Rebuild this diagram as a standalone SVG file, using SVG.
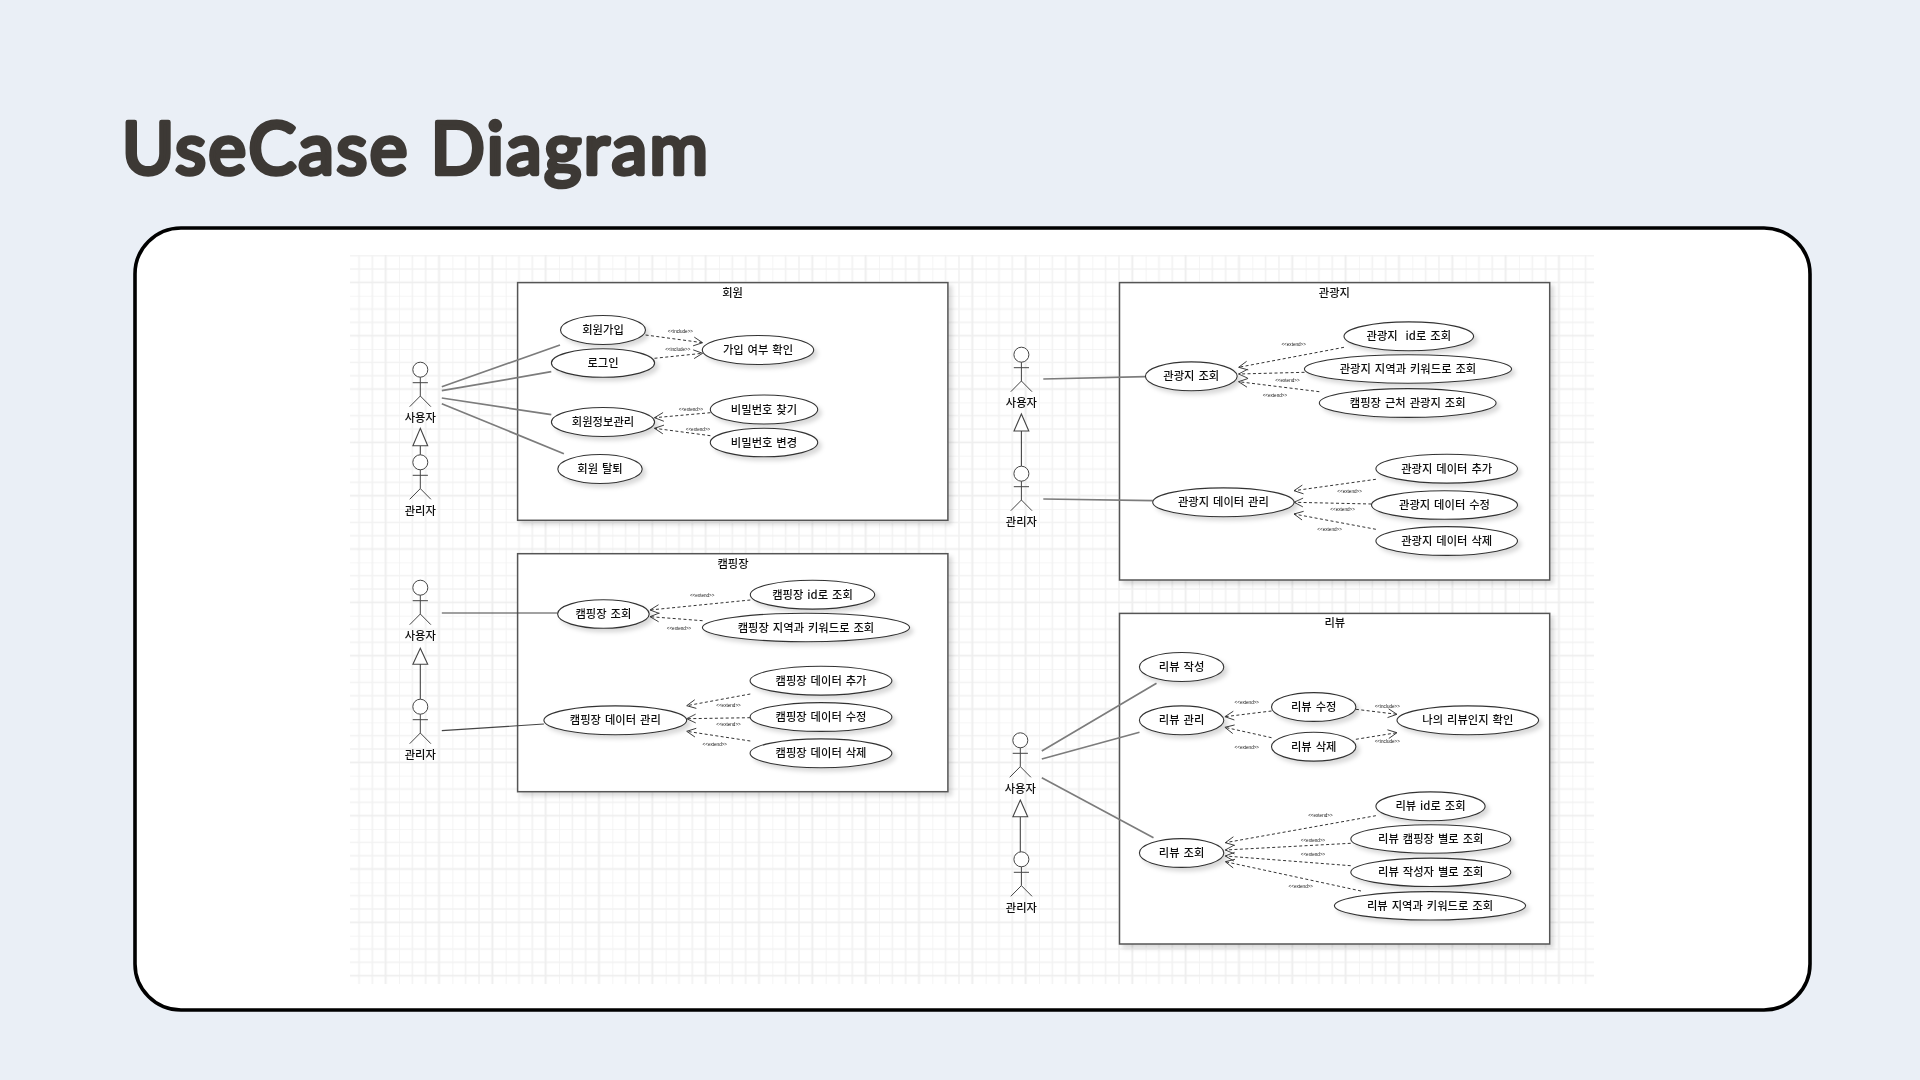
<svg xmlns="http://www.w3.org/2000/svg" width="1920" height="1080" viewBox="0 0 1920 1080">
<style>
text{font-family:"Noto Sans CJK KR","Liberation Sans",sans-serif;fill:#111;text-anchor:middle;dominant-baseline:central}
.uc text,.actor text,.frame text{font-size:11.3px;font-weight:500;word-spacing:1.4px;transform:translateY(-.8px)}
.frame rect{fill:#fff;stroke:#555;stroke-width:1.5;filter:url(#sh)}
.uc ellipse{fill:#fff;stroke:#333;stroke-width:1.1;filter:url(#sh)}
#stick circle,#stick path{fill:#fff;stroke:#444;stroke-width:1}
#stick path{fill:none}
.assoc{stroke:#7c7c7c;stroke-width:1.7;fill:none}
.assoc2{stroke:#444;stroke-width:1.2;fill:none}
.dep{stroke:#333;stroke-width:1;stroke-dasharray:3 2.4;fill:none;marker-end:url(#open)}
.gen{stroke:#444;stroke-width:1.1;fill:#fff}
.st{font-family:"Liberation Sans",sans-serif;font-size:4.6px;fill:#111}
</style>
<defs>
<filter id="sh" x="-15%" y="-30%" width="135%" height="170%"><feDropShadow dx="3.5" dy="3.5" stdDeviation="2" flood-color="#000" flood-opacity=".15"/></filter>
<filter id="soft" x="0" y="0" width="100%" height="100%" filterUnits="objectBoundingBox"><feGaussianBlur stdDeviation=".4"/></filter>
<marker id="open" markerUnits="userSpaceOnUse" markerWidth="14" markerHeight="14" refX="9" refY="5" orient="auto" overflow="visible"><path d="M0,0.6L9,5L0,9.4" fill="none" stroke="#333" stroke-width=".9"/></marker>
<pattern id="g" patternUnits="userSpaceOnUse" x="345.7" y="242.4" width="53.33" height="53.33"><path d="M0,0V53.33M13.33,0V53.33M26.66,0V53.33M40,0V53.33M0,0H53.33M0,13.33H53.33M0,26.66H53.33M0,40H53.33" stroke="#f2f2f2" stroke-width="1.6" fill="none"/><path d="M40,0V53.33M0,40H53.33" stroke="#eeeeee" stroke-width="1.6" fill="none"/></pattern>
<g id="stick"><circle r="7.5"/><path d="M0,7.5V26.3M-7.6,13H7.6M-10.6,37L0,26.3L10.6,37"/></g>
</defs>
<rect id="background" width="1920" height="1080" fill="#eaeff6"/>
<text id="title" x="122" y="173.5" style="font-family:Lato,'Liberation Sans',sans-serif;font-size:71px;font-weight:400;fill:#3d3935;text-anchor:start;dominant-baseline:auto;stroke:#3d3935;stroke-width:4.6;stroke-linejoin:round;stroke-linecap:round" textLength="586" lengthAdjust="spacing">UseCase Diagram</text>
<rect id="card" x="135" y="228" width="1675" height="782" rx="46" fill="#fff" stroke="#000" stroke-width="3.6"/>
<g id="diagram" filter="url(#soft)">
<rect id="grid" x="350" y="255" width="1244" height="729" fill="url(#g)"/>
<g id="frame-member" class="frame"><rect x="517.6" y="282.6" width="430.3" height="237.7"/><text x="732.6" y="292.5">회원</text></g>
<g id="frame-camp" class="frame"><rect x="517.6" y="553.7" width="430.3" height="238"/><text x="733" y="563.5">캠핑장</text></g>
<g id="frame-tour" class="frame"><rect x="1119.5" y="282.6" width="430.2" height="297.4"/><text x="1334.4" y="292.7">관광지</text></g>
<g id="frame-review" class="frame"><rect x="1119.5" y="613.4" width="430.2" height="330.6"/><text x="1334.8" y="623.3">리뷰</text></g>
<g id="connectors">
<path class="assoc" d="M441.8,386.7L560,345M441.8,390.7L551.3,371.7M441.8,398L551.3,414.7M441.8,403.7L563.9,453.7"/>
<path class="assoc2" d="M441.8,613L557.6,613M441.8,730.7L543.9,724"/>
<path class="assoc" d="M1043.3,379L1145.4,376.7M1043.3,499L1152.8,500.7M1041.8,751L1156.5,683.3M1041.8,759L1139.5,732.3M1041.8,777.7L1153.5,837.7"/>
<path class="gen" d="M420.3,445.7V455M420.3,428.3L427.7,445.7H412.9Z"/>
<path class="gen" d="M420.3,664.3V699.3M420.3,648.3L427.7,664.3H412.9Z"/>
<path class="gen" d="M1021.4,431V466M1021.4,414L1028.8,431H1014Z"/>
<path class="gen" d="M1020.3,816.7V852M1020.3,800L1027.7,816.7H1012.9Z"/>
<path class="dep" d="M645.6,335L702.6,342.7"/><path class="dep" d="M654.5,358.3L702.6,353.3"/>
<path class="dep" d="M710.4,412.7L654.5,417.7"/><path class="dep" d="M710.4,435.7L654.5,428.3"/>
<path class="dep" d="M750.3,600L650,610"/><path class="dep" d="M702.6,620.7L650,616.7"/>
<path class="dep" d="M750.3,694L686.7,705.7"/><path class="dep" d="M750.3,717.7L686.7,718.7"/><path class="dep" d="M750.3,741L686.7,731.3"/>
<path class="dep" d="M1344,347.3L1238.6,367.3"/><path class="dep" d="M1304.5,372.3L1238.6,374"/><path class="dep" d="M1319.3,391.7L1238.6,381.7"/>
<path class="dep" d="M1375.9,479.3L1294,490.7"/><path class="dep" d="M1371.4,504L1294,502.3"/><path class="dep" d="M1375.9,529.3L1294,514"/>
<path class="dep" d="M1271.5,711L1224.9,716.7"/><path class="dep" d="M1271.5,737.7L1224.9,727.3"/>
<path class="dep" d="M1355.9,709.3L1397,714.3"/><path class="dep" d="M1355.9,739.3L1397,732.7"/>
<path class="dep" d="M1375.9,815.7L1225.3,842.7"/><path class="dep" d="M1350.7,843.3L1225.3,850"/><path class="dep" d="M1350.7,865.7L1225.3,856"/><path class="dep" d="M1361,891L1225.3,861.7"/>
<g id="stereotypes">
<text class="st" x="680.4" y="331.3">&lt;&lt;include&gt;&gt;</text><text class="st" x="677.8" y="349.3">&lt;&lt;include&gt;&gt;</text>
<text class="st" x="691" y="409.7">&lt;&lt;extend&gt;&gt;</text><text class="st" x="698" y="429.3">&lt;&lt;extend&gt;&gt;</text>
<text class="st" x="702.2" y="595.7">&lt;&lt;extend&gt;&gt;</text><text class="st" x="679" y="628.7">&lt;&lt;extend&gt;&gt;</text>
<text class="st" x="728.5" y="705.3">&lt;&lt;extend&gt;&gt;</text><text class="st" x="728.5" y="724">&lt;&lt;extend&gt;&gt;</text><text class="st" x="714.8" y="744.7">&lt;&lt;extend&gt;&gt;</text>
<text class="st" x="1293.7" y="344.3">&lt;&lt;extend&gt;&gt;</text><text class="st" x="1287.4" y="380.7">&lt;&lt;extend&gt;&gt;</text><text class="st" x="1274.9" y="395">&lt;&lt;extend&gt;&gt;</text>
<text class="st" x="1349.6" y="491">&lt;&lt;extend&gt;&gt;</text><text class="st" x="1342.6" y="509.7">&lt;&lt;extend&gt;&gt;</text><text class="st" x="1329.6" y="529.3">&lt;&lt;extend&gt;&gt;</text>
<text class="st" x="1246.8" y="702.3">&lt;&lt;extend&gt;&gt;</text><text class="st" x="1246.8" y="747.7">&lt;&lt;extend&gt;&gt;</text>
<text class="st" x="1387.3" y="706">&lt;&lt;include&gt;&gt;</text><text class="st" x="1387.3" y="741.3">&lt;&lt;include&gt;&gt;</text>
<text class="st" x="1320.4" y="815">&lt;&lt;extend&gt;&gt;</text><text class="st" x="1313" y="840.7">&lt;&lt;extend&gt;&gt;</text><text class="st" x="1313" y="854.3">&lt;&lt;extend&gt;&gt;</text><text class="st" x="1300.8" y="886">&lt;&lt;extend&gt;&gt;</text>
</g>
</g>
<g id="actor-user-1" class="actor" transform="translate(420.3,369.7)"><use href="#stick"/><text y="48.5">사용자</text></g>
<g id="actor-admin-1" class="actor" transform="translate(420.3,462.3)"><use href="#stick"/><text y="48.5">관리자</text></g>
<g id="actor-user-2" class="actor" transform="translate(420.3,587.7)"><use href="#stick"/><text y="48.5">사용자</text></g>
<g id="actor-admin-2" class="actor" transform="translate(420.3,706.7)"><use href="#stick"/><text y="48.5">관리자</text></g>
<g id="actor-user-3" class="actor" transform="translate(1021.4,354.7)"><use href="#stick"/><text y="48.5">사용자</text></g>
<g id="actor-admin-3" class="actor" transform="translate(1021.4,473.7)"><use href="#stick"/><text y="48.5">관리자</text></g>
<g id="actor-user-4" class="actor" transform="translate(1020.3,740.3)"><use href="#stick"/><text y="48.5">사용자</text></g>
<g id="actor-admin-4" class="actor" transform="translate(1021.4,859.3)"><use href="#stick"/><text y="48.5">관리자</text></g>
<g id="uc-signup" class="uc"><ellipse cx="603" cy="330" rx="42.5" ry="14.5"/><text x="603" y="330">회원가입</text></g>
<g id="uc-login" class="uc"><ellipse cx="603" cy="363" rx="51.6" ry="14.3"/><text x="603" y="363">로그인</text></g>
<g id="uc-check" class="uc"><ellipse cx="758" cy="350" rx="55.7" ry="14.5"/><text x="758" y="350">가입 여부 확인</text></g>
<g id="uc-findpw" class="uc"><ellipse cx="764" cy="409.5" rx="53.7" ry="14.5"/><text x="764" y="409.5">비밀번호 찾기</text></g>
<g id="uc-changepw" class="uc"><ellipse cx="764" cy="442.5" rx="53.7" ry="14.3"/><text x="764" y="442.5">비밀번호 변경</text></g>
<g id="uc-profile" class="uc"><ellipse cx="603" cy="422" rx="51.6" ry="14.5"/><text x="603" y="422">회원정보관리</text></g>
<g id="uc-leave" class="uc"><ellipse cx="600" cy="469" rx="42.2" ry="14.5"/><text x="600" y="469">회원 탈퇴</text></g>
<g id="uc-camp-view" class="uc"><ellipse cx="603.4" cy="614" rx="45.8" ry="14.3"/><text x="603.4" y="614">캠핑장 조회</text></g>
<g id="uc-camp-id" class="uc"><ellipse cx="812.5" cy="594.7" rx="62.2" ry="14.4"/><text x="812.5" y="594.7">캠핑장 id로 조회</text></g>
<g id="uc-camp-key" class="uc"><ellipse cx="806" cy="627.5" rx="103.6" ry="14.2"/><text x="806" y="627.5">캠핑장 지역과 키워드로 조회</text></g>
<g id="uc-camp-data" class="uc"><ellipse cx="615.3" cy="720.3" rx="71.4" ry="14.4"/><text x="615.3" y="720.3">캠핑장 데이터 관리</text></g>
<g id="uc-camp-add" class="uc"><ellipse cx="821" cy="680.7" rx="70.9" ry="14.4"/><text x="821" y="680.7">캠핑장 데이터 추가</text></g>
<g id="uc-camp-edit" class="uc"><ellipse cx="821" cy="717" rx="70.9" ry="14.4"/><text x="821" y="717">캠핑장 데이터 수정</text></g>
<g id="uc-camp-del" class="uc"><ellipse cx="821" cy="753.3" rx="70.9" ry="14.4"/><text x="821" y="753.3">캠핑장 데이터 삭제</text></g>
<g id="uc-tour-view" class="uc"><ellipse cx="1191.3" cy="376.3" rx="45.9" ry="14.4"/><text x="1191.3" y="376.3">관광지 조회</text></g>
<g id="uc-tour-id" class="uc"><ellipse cx="1408.8" cy="336.3" rx="64.8" ry="14.4"/><text x="1408.8" y="336.3" xml:space="preserve">관광지  id로 조회</text></g>
<g id="uc-tour-key" class="uc"><ellipse cx="1408" cy="369" rx="103.6" ry="14.2"/><text x="1408" y="369">관광지 지역과 키워드로 조회</text></g>
<g id="uc-tour-near" class="uc"><ellipse cx="1407.7" cy="403" rx="88.4" ry="14.4"/><text x="1407.7" y="403">캠핑장 근처 관광지 조회</text></g>
<g id="uc-tour-data" class="uc"><ellipse cx="1223.4" cy="502.3" rx="70.7" ry="14.4"/><text x="1223.4" y="502.3">관광지 데이터 관리</text></g>
<g id="uc-tour-add" class="uc"><ellipse cx="1446.7" cy="468.7" rx="70.8" ry="14.4"/><text x="1446.7" y="468.7">관광지 데이터 추가</text></g>
<g id="uc-tour-edit" class="uc"><ellipse cx="1444.5" cy="505" rx="73" ry="14.3"/><text x="1444.5" y="505">관광지 데이터 수정</text></g>
<g id="uc-tour-del" class="uc"><ellipse cx="1446.7" cy="541" rx="70.8" ry="14.4"/><text x="1446.7" y="541">관광지 데이터 삭제</text></g>
<g id="uc-rev-write" class="uc"><ellipse cx="1181.6" cy="667" rx="42.2" ry="14.5"/><text x="1181.6" y="667">리뷰 작성</text></g>
<g id="uc-rev-manage" class="uc"><ellipse cx="1181.6" cy="720.3" rx="42.2" ry="14.4"/><text x="1181.6" y="720.3">리뷰 관리</text></g>
<g id="uc-rev-view" class="uc"><ellipse cx="1181.6" cy="853" rx="42.2" ry="14.4"/><text x="1181.6" y="853">리뷰 조회</text></g>
<g id="uc-rev-edit" class="uc"><ellipse cx="1313.7" cy="707" rx="42.2" ry="14.4"/><text x="1313.7" y="707">리뷰 수정</text></g>
<g id="uc-rev-del" class="uc"><ellipse cx="1313.7" cy="746.7" rx="42.2" ry="14.4"/><text x="1313.7" y="746.7">리뷰 삭제</text></g>
<g id="uc-rev-mine" class="uc"><ellipse cx="1467.8" cy="720.3" rx="70.8" ry="14.4"/><text x="1467.8" y="720.3">나의 리뷰인지 확인</text></g>
<g id="uc-rev-id" class="uc"><ellipse cx="1430.5" cy="806.3" rx="54.6" ry="14.4"/><text x="1430.5" y="806.3">리뷰 id로 조회</text></g>
<g id="uc-rev-camp" class="uc"><ellipse cx="1430.8" cy="839" rx="80" ry="14.2"/><text x="1430.8" y="839">리뷰 캠핑장 별로 조회</text></g>
<g id="uc-rev-author" class="uc"><ellipse cx="1430.8" cy="872.3" rx="80" ry="14.2"/><text x="1430.8" y="872.3">리뷰 작성자 별로 조회</text></g>
<g id="uc-rev-key" class="uc"><ellipse cx="1430" cy="905.8" rx="95.6" ry="14.2"/><text x="1430" y="905.8">리뷰 지역과 키워드로 조회</text></g>
</g>
</svg>
